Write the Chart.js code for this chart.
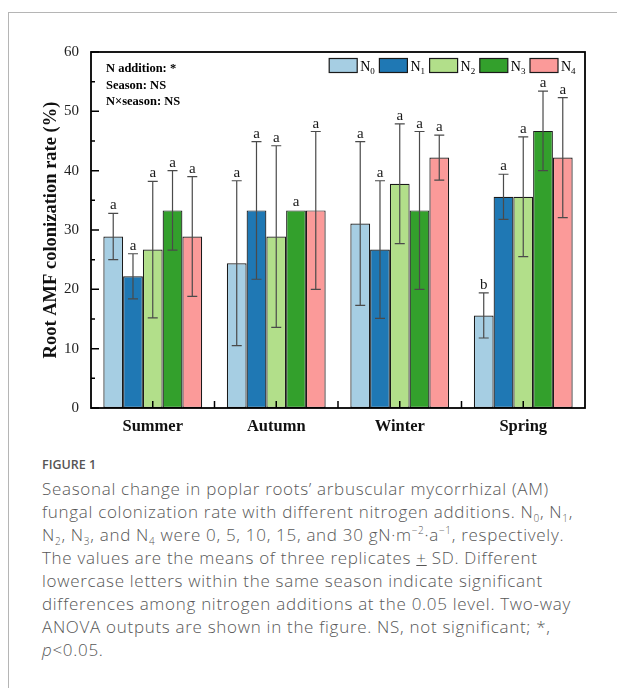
<!DOCTYPE html>
<html>
<head>
<meta charset="utf-8">
<script src="https://cdn.jsdelivr.net/npm/chart.js@4/dist/chart.umd.min.js"></script>
<style>
  html, body { margin: 0; padding: 0; background: #fff; }
  body { width: 617px; height: 688px; position: relative; overflow: hidden; }
  #frame { position: absolute; left: 8px; top: 12px; right: -2px; bottom: -2px;
           border-top: 1px solid #b5b5b5; border-left: 1px solid #b5b5b5; }
  #wrap { position: absolute; left: 0; top: 0; width: 617px; height: 440px; }
  #caption { position: absolute; left: 42px; top: 455px; color: #575757;
             font-family: "Open Sans", "Lato", sans-serif; font-weight: 300; font-size: 17px; line-height: 23px;
             letter-spacing: 0.7px; white-space: nowrap; }
  #caption .fig { font-family: "Open Sans", sans-serif; font-weight: 600; font-size: 12.5px;
                  letter-spacing: 0; color: #555; line-height: 20px; display: block; margin-bottom: 2px; }
  #caption sub, #caption sup { font-size: 10px; line-height: 0; }
  #caption .pm { text-decoration: underline; }
</style>
</head>
<body>
<div id="frame"></div>
<div id="wrap"><canvas id="chart" width="617" height="440"></canvas></div>
<div id="caption">
  <span class="fig">FIGURE 1</span>
  Seasonal change in poplar roots’ arbuscular mycorrhizal (AM)<br>
  fungal colonization rate with different nitrogen additions. N<sub>0</sub>, N<sub>1</sub>,<br>
  N<sub>2</sub>, N<sub>3</sub>, and N<sub>4</sub> were 0, 5, 10, 15, and 30 gN·m<sup>−2</sup>·a<sup>−1</sup>, respectively.<br>
  The values are the means of three replicates <span class="pm">+</span> SD. Different<br>
  lowercase letters within the same season indicate significant<br>
  differences among nitrogen additions at the 0.05 level. Two-way<br>
  ANOVA outputs are shown in the figure. NS, not significant; *,<br>
  <i>p</i>&lt;0.05.
</div>
<script>
// Seasons on the x axis
const seasons = ['Summer', 'Autumn', 'Winter', 'Spring'];

// Mean colonization rate (%) per nitrogen level
const n0 = [28.9, 24.4, 31.1, 15.6];
const n1 = [22.2, 33.3, 26.7, 35.6];
const n2 = [26.7, 28.9, 37.8, 35.6];
const n3 = [33.3, 33.3, 33.3, 46.7];
const n4 = [28.9, 33.3, 42.2, 42.2];

// Standard deviations
const sd0 = [3.9, 13.9, 13.8, 3.8];
const sd1 = [3.8, 11.6, 11.6, 3.8];
const sd2 = [11.5, 15.3, 10.1, 10.1];
const sd3 = [6.7, 0, 13.3, 6.7];
const sd4 = [10.1, 13.3, 3.8, 10.1];

// Significance letters within each season
const let0 = ['a', 'a', 'a', 'b'];
const let1 = ['a', 'a', 'a', 'a'];
const let2 = ['a', 'a', 'a', 'a'];
const let3 = ['a', 'a', 'a', 'a'];
const let4 = ['a', 'a', 'a', 'a'];

// Series labels (N + subscript index)
const levelIndex = ['0', '1', '2', '3', '4'];

// Two-way ANOVA summary
const anovaLines = ['N addition: *', 'Season: NS', 'N×season: NS'];

// Y axis ticks
const yMin = 0, yMax = 60, yStep = 10, yMinorStep = 5;

const colors = ['#a6cee3', '#1f78b4', '#b2df8a', '#33a02c', '#fb9a99'];
const means = [n0, n1, n2, n3, n4];
const sds = [sd0, sd1, sd2, sd3, sd4];
const letters = [let0, let1, let2, let3, let4];

const SERIF = '"Liberation Serif", "Times New Roman", serif';

const datasets = means.map((vals, i) => ({
  label: 'N' + levelIndex[i],
  data: vals,
  backgroundColor: colors[i],
  borderColor: '#1a1a1a',
  borderWidth: 1.2,
  borderSkipped: false,
  categoryPercentage: 0.8,
  barPercentage: 1.0
}));

// Error bars with caps, plus significance letters above them
const errorBarPlugin = {
  id: 'errorBars',
  afterDatasetsDraw(chart) {
    const ctx = chart.ctx;
    const y = chart.scales.y;
    ctx.save();
    means.forEach((vals, i) => {
      const meta = chart.getDatasetMeta(i);
      meta.data.forEach((bar, j) => {
        const m = vals[j], s = sds[i][j];
        const x = bar.x;
        const yTop = y.getPixelForValue(m + s);
        const yBot = y.getPixelForValue(m - s);
        if (s > 0) {
          ctx.strokeStyle = '#4a4a4a';
          ctx.lineWidth = 1.2;
          ctx.beginPath();
          ctx.moveTo(x, yTop); ctx.lineTo(x, yBot);
          ctx.moveTo(x - 5, yTop); ctx.lineTo(x + 5, yTop);
          ctx.moveTo(x - 5, yBot); ctx.lineTo(x + 5, yBot);
          ctx.stroke();
        }
        ctx.fillStyle = '#1a1a1a';
        ctx.font = '15px ' + SERIF;
        ctx.textAlign = 'center';
        ctx.textBaseline = 'alphabetic';
        ctx.fillText(letters[i][j], x, yTop - 4);
      });
    });
    ctx.restore();
  }
};

// Box frame, inward ticks, legend and ANOVA text
const framePlugin = {
  id: 'frame',
  afterDraw(chart) {
    const ctx = chart.ctx;
    const a = chart.chartArea;
    const y = chart.scales.y;
    const x = chart.scales.x;
    ctx.save();
    ctx.strokeStyle = '#000';
    ctx.lineWidth = 1.8;
    ctx.strokeRect(a.left, a.top, a.right - a.left, a.bottom - a.top);

    // y ticks (major and minor, pointing inward)
    ctx.lineWidth = 1.5;
    ctx.beginPath();
    for (let v = yMin; v <= yMax; v += yMinorStep) {
      const py = y.getPixelForValue(v);
      const len = (v % yStep === 0) ? 8 : 4;
      ctx.moveTo(a.left, py); ctx.lineTo(a.left + len, py);
    }
    // x ticks at category centres and boundaries
    const n = seasons.length;
    const step = (a.right - a.left) / n;
    for (let k = 0; k < n; k++) {
      const cx = x.getPixelForValue(k);
      ctx.moveTo(cx, a.bottom); ctx.lineTo(cx, a.bottom - 7);
      if (k > 0) {
        const bx = cx - step / 2;
        ctx.moveTo(bx, a.bottom); ctx.lineTo(bx, a.bottom - 7);
      }
    }
    ctx.stroke();

    // ANOVA lines
    ctx.fillStyle = '#000';
    ctx.font = 'bold 12.5px ' + SERIF;
    ctx.textAlign = 'left';
    ctx.textBaseline = 'alphabetic';
    anovaLines.forEach((t, k) => ctx.fillText(t, a.left + 15, a.top + 20 + k * 16.5));

    // Legend, right aligned inside the plot
    const boxW = 28, boxH = 14, period = 50.2;
    const startX = a.right - 8 - (period * (levelIndex.length - 1) + boxW + 19);
    levelIndex.forEach((idx, i) => {
      const bx = startX + i * period;
      const by = a.top + 6.5;
      ctx.fillStyle = colors[i];
      ctx.fillRect(bx, by, boxW, boxH);
      ctx.strokeStyle = '#1a1a1a';
      ctx.lineWidth = 1.2;
      ctx.strokeRect(bx, by, boxW, boxH);
      ctx.fillStyle = '#000';
      ctx.font = '14px ' + SERIF;
      ctx.fillText('N', bx + boxW + 3, by + 12);
      const nw = ctx.measureText('N').width;
      ctx.font = '9px ' + SERIF;
      ctx.fillText(idx, bx + boxW + 3 + nw, by + 15);
    });
    ctx.restore();
  }
};

new Chart(document.getElementById('chart'), {
  type: 'bar',
  data: { labels: seasons, datasets },
  options: {
    responsive: false,
    animation: false,
    layout: { padding: { top: 52, right: 32, bottom: 0, left: 0 } },
    plugins: { legend: { display: false }, tooltip: { enabled: false } },
    scales: {
      x: {
        offset: true,
        grid: { display: false, drawTicks: false },
        border: { display: false },
        ticks: { color: '#111', padding: 9, font: { family: SERIF, size: 16.5, weight: 'bold' } },
        afterFit(s) { s.height = 32; }
      },
      y: {
        min: yMin, max: yMax,
        grid: { display: false, drawTicks: false },
        border: { display: false },
        ticks: { stepSize: yStep, color: '#222', padding: 12, font: { family: SERIF, size: 15 } },
        title: {
          display: true,
          text: 'Root AMF colonization rate (%)',
          color: '#111',
          font: { family: SERIF, size: 18.5, weight: 'bold' },
          padding: { top: 40, bottom: 0 }
        },
        afterFit(s) { s.width = 91; }
      }
    }
  },
  plugins: [errorBarPlugin, framePlugin]
});
</script>
</body>
</html>
